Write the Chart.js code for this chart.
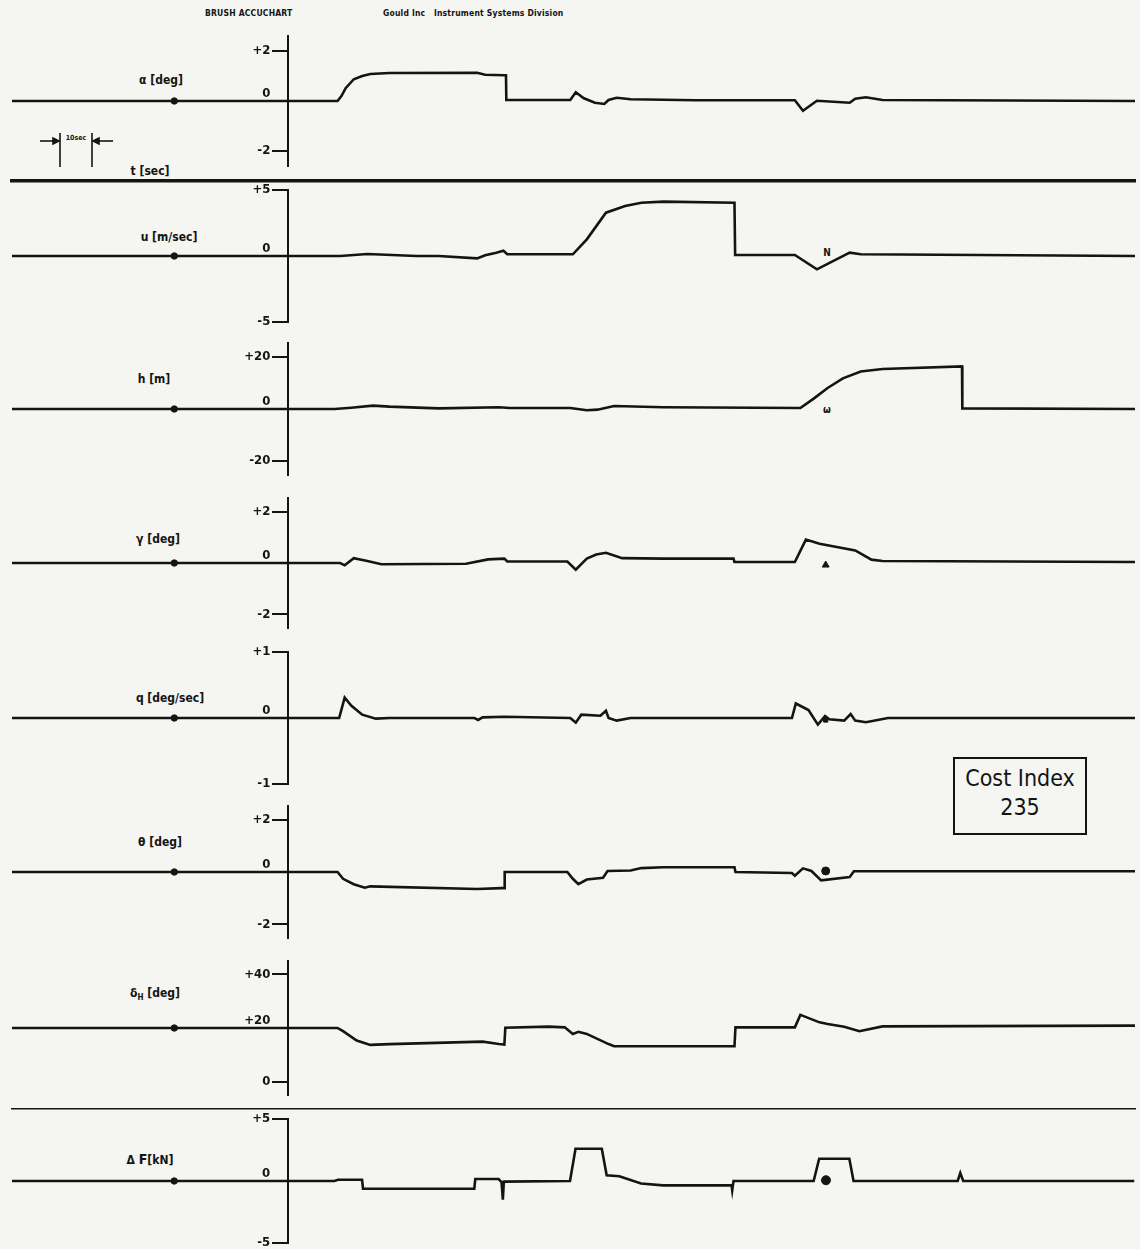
<!DOCTYPE html>
<html>
<head>
<meta charset="utf-8">
<title>Brush Accuchart record – Cost Index 235</title>
<script src="https://cdn.jsdelivr.net/npm/chart.js@4.4.1/dist/chart.umd.min.js"></script>
<style>
  body { margin: 0; background: #f5f5f2; }
  #page { position: relative; width: 1140px; height: 1249px; overflow: hidden;
          font-family: 'DejaVu Sans Condensed', 'DejaVu Sans', sans-serif; color: #141414; }
  #page canvas { position: absolute; left: 0; }
  .hdr  { position: absolute; top: 8px; font-size: 8.5px; font-weight: bold; letter-spacing: 0.2px; }
  .lbl  { position: absolute; font-size: 12px; font-weight: bold; white-space: nowrap;
          transform: translate(-50%, -50%); }
  .lbl sub { font-size: 8px; }
  .ink  { position: absolute; font-size: 10px; font-weight: bold; transform: translate(-50%, -50%); }
  #cost { position: absolute; left: 953px; top: 757px; width: 130px; height: 69px;
          border: 2px solid #141414; text-align: center; font-size: 23px; line-height: 29px;
          padding-top: 5px; box-sizing: content-box; }
</style>
</head>
<body>
<div id="page">
  <div class="hdr" style="left:205px">BRUSH ACCUCHART</div>
  <div class="hdr" style="left:383px">Gould Inc &nbsp; Instrument Systems Division</div>

  <svg style="position:absolute;left:0;top:0" width="130" height="180">
    <g stroke="#141414" stroke-width="1.6" fill="#141414">
      <line x1="40" y1="141" x2="56" y2="141"/><polygon points="59,141 53,138 53,144"/>
      <line x1="60" y1="133" x2="60" y2="167"/>
      <line x1="92" y1="133" x2="92" y2="167"/>
      <line x1="113" y1="141" x2="96" y2="141"/><polygon points="93,141 99,138 99,144"/>
    </g>
    <text x="76" y="140" font-size="7" font-weight="bold" text-anchor="middle"
          font-family="DejaVu Sans Condensed, DejaVu Sans, sans-serif" fill="#141414">10sec</text>
  </svg>

  <div class="lbl" style="left:161px;top:80px">α [deg]</div>
  <div class="lbl" style="left:150px;top:171px">t [sec]</div>
  <div class="lbl" style="left:169px;top:237px">u [m/sec]</div>
  <div class="lbl" style="left:154px;top:379px">h [m]</div>
  <div class="lbl" style="left:158px;top:539px">γ [deg]</div>
  <div class="lbl" style="left:170px;top:698px">q [deg/sec]</div>
  <div class="lbl" style="left:160px;top:842px">θ [deg]</div>
  <div class="lbl" style="left:155px;top:994px">δ<sub>H</sub> [deg]</div>
  <div class="lbl" style="left:150px;top:1159px">Δ <span style="font-size:14px">F</span>[kN]</div>

  <div class="ink" style="left:827px;top:252px">N</div>
  <div class="ink" style="left:827px;top:409px">ω</div>

  <div id="cost">Cost Index<br>235</div>
</div>

<script>
// Time in seconds, 0 where the amplitude axes cross the record (10 s ≈ 32 px of paper).
const T_START = -85;
const T_END   = 261;

// Traces, [time s, value].
const alphaTrace = [[-85,0],[15.3,0],[16.5,0.2],[17.8,0.51],[20.3,0.87],[22.9,1.0],[25.4,1.08],[31.3,1.12],
  [58.3,1.13],[60.8,1.05],[66.7,1.03],[67.2,1.03],[67.3,0.04],[87.0,0.04],[88.7,0.35],[91.2,0.11],[94.6,-0.07],
  [97.5,-0.12],[98.8,0.04],[101.3,0.13],[105.6,0.07],[125.8,0.03],[156.2,0.03],[158.7,-0.39],[163.0,0.01],
  [173.1,-0.07],[174.8,0.09],[178.1,0.15],[183.2,0.04],[261,0]];

const uTrace = [[-85,0],[16.1,0],[24.5,0.15],[39.7,0],[46.5,0],[58.3,-0.18],[60.8,0.05],[64.2,0.25],[66.4,0.4],
  [67.6,0.13],[87.8,0.13],[92.1,1.26],[98.0,3.28],[103.9,3.79],[108.9,4.04],[115.7,4.12],[137.6,4.04],
  [137.8,0.08],[156.2,0.08],[163.0,-1.01],[173.1,0.25],[176.5,0.13],[261,0]];

const hTrace = [[-85,0],[14.4,0],[19.5,0.5],[26.2,1.3],[31.3,0.9],[46.5,0.25],[65.0,0.65],[68.4,0.4],[87.0,0.4],
  [92.1,-0.5],[95.4,-0.25],[100.5,1.15],[115.7,0.65],[157.9,0.4],[162.0,4.0],[166.3,8.1],[171.0,11.8],
  [176.5,14.4],[183.2,15.4],[207.7,16.4],[207.8,0.25],[261,0]];

const gammaTrace = [[-85,0],[16.1,0],[17.5,-0.09],[20.3,0.19],[24.5,0.08],[28.8,-0.05],[54.9,-0.03],[61.7,0.14],
  [66.7,0.17],[67.6,0.06],[86.1,0.06],[88.7,-0.26],[92.1,0.17],[95.0,0.33],[98.0,0.4],[103.0,0.19],[115.7,0.17],
  [137.3,0.17],[137.6,0.04],[156.2,0.04],[159.6,0.91],[163.8,0.75],[174.8,0.49],[179.8,0.13],[183.2,0.08],[261,0.04]];

const qTrace = [[-85,0],[15.8,0],[17.5,0.31],[19.5,0.19],[22.9,0.05],[27.1,-0.01],[31.3,0],[57.5,0],[58.6,-0.03],
  [60.0,0.01],[66.7,0.02],[87.0,0],[88.7,-0.07],[90.4,0.05],[96.3,0.035],[98.0,0.11],[98.8,0],[101.3,-0.04],
  [105.6,0],[155.3,0],[156.5,0.22],[160.4,0.12],[163.3,-0.1],[165.5,0.03],[166.8,-0.02],[171.4,-0.04],
  [173.4,0.06],[174.8,-0.04],[178.1,-0.065],[184.9,0],[261,0]];

const thetaTrace = [[-85,0],[15.3,0],[17.0,-0.26],[20.3,-0.47],[23.7,-0.6],[25.4,-0.55],[58.3,-0.65],[65.9,-0.62],
  [66.7,-0.62],[66.8,0],[86.1,0],[87.8,-0.26],[89.5,-0.47],[92.1,-0.29],[97.1,-0.22],[98.5,0.04],[105.6,0.06],
  [108.9,0.15],[115.7,0.18],[137.6,0.18],[137.9,0],[155.3,-0.04],[156.2,-0.14],[158.7,0.14],[161.3,0.04],
  [164.3,-0.32],[173.1,-0.19],[174.4,0.03],[261,0.03]];

const deltaHTrace = [[-85,20],[15.3,20],[17.0,18.8],[21.2,15.3],[25.4,13.7],[31.3,14.0],[60.0,14.9],[65.0,14.0],
  [66.7,13.8],[67.0,20.1],[80.2,20.5],[85.3,20.25],[87.8,17.8],[89.5,18.6],[92.1,17.8],[98.8,14.0],[100.5,13.2],
  [137.6,13.2],[137.9,20.25],[156.2,20.25],[157.9,24.9],[163.8,22.1],[166.3,21.5],[171.4,20.5],[176.1,18.8],
  [183.2,20.6],[261,20.9]];

const dFTrace = [[-85,0],[14.4,0],[15.5,0.1],[22.9,0.1],[23.2,-0.62],[57.5,-0.62],[57.8,0.16],[65.0,0.16],
  [65.9,-0.1],[66.3,-1.5],[66.6,-0.05],[87.0,0],[88.7,2.6],[96.8,2.6],[98.3,0.46],[102.2,0.38],[108.9,-0.2],
  [115.7,-0.35],[136.8,-0.35],[137.0,-0.75],[137.4,0],[162.1,0],[163.8,1.8],[173.1,1.8],[174.4,0],[206.5,0],
  [207.3,0.65],[208.2,0],[261,0]];

// Amplitude tick values per channel
const alphaTicks  = [-2, 0, 2];
const uTicks      = [-5, 0, 5];
const hTicks      = [-20, 0, 20];
const gammaTicks  = [-2, 0, 2];
const qTicks      = [-1, 0, 1];
const thetaTicks  = [-2, 0, 2];
const deltaHTicks = [0, 20, 40];
const dFTicks     = [-5, 0, 5];

// Pen marks on the paper: zeroing blobs left of the axis, event marks near t≈166 s
const zeroBlobT = -35;
const gammaMark = [[165.7, -0.08]];
const qMark     = [[165.7, -0.03]];
const thetaMark = [[165.7, 0.04]];
const dFMark    = [[165.9, 0.06]];

const INK  = '#141414';
const FONT = "'DejaVu Sans Condensed', 'DejaVu Sans', sans-serif";

// layout: pixel top/bottom of each amplitude axis on the page
const STRIPS = [
  { trace: alphaTrace,  ticks: alphaTicks,  base: 0,  min: -2.6,  max: 2.6,  top: 36,   bottom: 166,  padB: 20, rule: -3.2, ruleW: 3.5 },
  { trace: uTrace,      ticks: uTicks,      base: 0,  min: -5,    max: 5,    top: 190,  bottom: 322 },
  { trace: hTrace,      ticks: hTicks,      base: 0,  min: -25.4, max: 25.4, top: 343,  bottom: 475 },
  { trace: gammaTrace,  ticks: gammaTicks,  base: 0,  min: -2.53, max: 2.53, top: 498,  bottom: 628,  mark: gammaMark, markStyle: 'triangle', markR: 4 },
  { trace: qTrace,      ticks: qTicks,      base: 0,  min: -1,    max: 1,    top: 652,  bottom: 784,  mark: qMark, markStyle: 'rect', markR: 3 },
  { trace: thetaTrace,  ticks: thetaTicks,  base: 0,  min: -2.53, max: 2.53, top: 806,  bottom: 938,  mark: thetaMark, markStyle: 'circle', markR: 4 },
  { trace: deltaHTrace, ticks: deltaHTicks, base: 20, min: -5,    max: 45,   top: 961,  bottom: 1095, padB: 18, rule: -10.2, ruleW: 1.5 },
  { trace: dFTrace,     ticks: dFTicks,     base: 0,  min: -5,    max: 5,    top: 1119, bottom: 1243, mark: dFMark, markStyle: 'circle', markR: 4.5 },
];

// an axis placed at x=0 draws its labels right against the line, so pad them
// with an em + en space to clear the tick marks
const GAP = '\u2003\u2002';
const fmt = v => (v > 0 ? '+' + v : String(v)) + GAP;
const pts = arr => arr.map(([x, y]) => ({ x, y }));

Chart.defaults.font.family = FONT;
Chart.defaults.color = INK;

const page = document.getElementById('page');

STRIPS.forEach(s => {
  const padT = 12;
  const padB = s.padB || 12;
  const cv = document.createElement('canvas');
  cv.width = 1140;
  cv.height = s.bottom - s.top + padT + padB;
  cv.style.top = (s.top - padT) + 'px';
  page.appendChild(cv);

  const datasets = [
    { data: pts(s.trace), borderColor: INK, borderWidth: 2.6, pointRadius: 0, tension: 0 },
    { data: [{ x: zeroBlobT, y: s.base }], showLine: false, pointRadius: 3.2,
      pointBackgroundColor: INK, pointBorderColor: INK },
  ];
  if (s.mark) {
    datasets.push({ data: pts(s.mark), showLine: false, pointStyle: s.markStyle, pointRadius: s.markR,
      pointBackgroundColor: INK, pointBorderColor: INK });
  }

  new Chart(cv, {
    type: 'line',
    data: { datasets },
    options: {
      responsive: false,
      animation: false,
      events: [],
      layout: { padding: { top: padT, bottom: padB, left: 12, right: 3 } },
      plugins: { legend: { display: false }, tooltip: { enabled: false } },
      scales: {
        x: {
          type: 'linear', min: T_START, max: T_END,
          display: s.rule != null,
          position: s.rule != null ? { y: s.rule } : 'bottom',
          ticks: { display: false },
          grid: { display: false },
          border: { display: true, color: INK, width: s.ruleW || 1 },
        },
        y: {
          type: 'linear', min: s.min, max: s.max,
          position: { x: 0 },
          afterBuildTicks: ax => { ax.ticks = s.ticks.map(v => ({ value: v })); },
          ticks: {
            color: INK, padding: 4,
            font: { family: FONT, size: 13, weight: 'bold' },
            callback: v => (v === s.base ? [fmt(v), ''] : fmt(v)),
          },
          grid: { drawOnChartArea: false, drawTicks: true, tickLength: 15, color: INK, lineWidth: 2 },
          border: { display: true, color: INK, width: 2 },
        },
      },
    },
  });
});
</script>
</body>
</html>
